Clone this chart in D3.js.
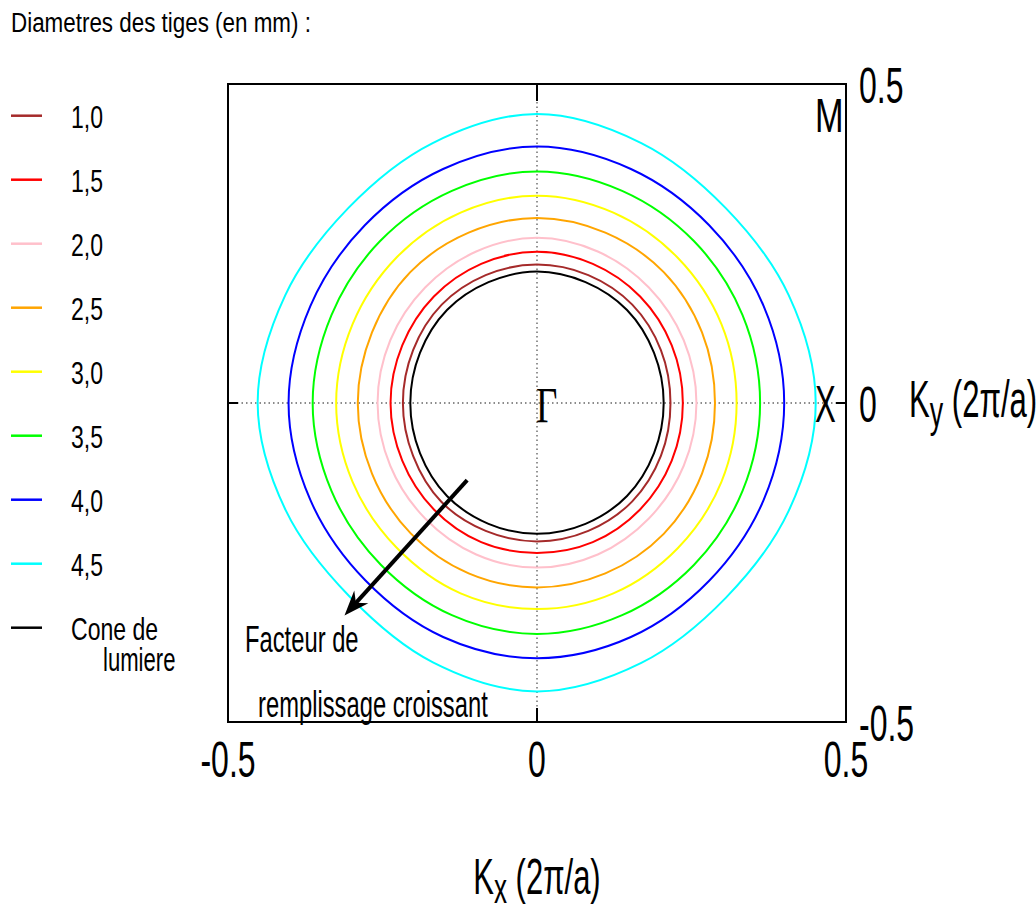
<!DOCTYPE html>
<html><head><meta charset="utf-8">
<script src="https://cdn.jsdelivr.net/npm/d3@7"></script>
<style>body{margin:0;background:#fff} svg{display:block}</style>
</head><body>
<svg id="c" width="1036" height="911"></svg>
<script>
// ---------- data ----------
const titleText = "Diametres des tiges (en mm) :";
const seriesLabels = ["1,0", "1,5", "2,0", "2,5", "3,0", "3,5", "4,0", "4,5", "Cone de"];
const seriesColors = ["#a52a2a", "#ff0000", "#ffc0cb", "#ffa500", "#ffff00", "#00ff00", "#0000ff", "#00ffff", "#000000"];
// contour radius (in 2pi/a) read at each polar angle (degrees)
const anglesDeg = [0, 22.5, 45, 67.5, 90, 112.5, 135, 157.5, 180, 202.5, 225, 247.5, 270, 292.5, 315, 337.5];
const r_1_0 = [0.216, 0.217, 0.218, 0.217, 0.217, 0.217, 0.218, 0.217, 0.217, 0.217, 0.219, 0.217, 0.217, 0.217, 0.218, 0.217];
const r_1_5 = [0.236, 0.236, 0.236, 0.236, 0.237, 0.236, 0.236, 0.236, 0.237, 0.236, 0.236, 0.236, 0.235, 0.236, 0.236, 0.236];
const r_2_0 = [0.258, 0.257, 0.256, 0.257, 0.259, 0.257, 0.256, 0.257, 0.258, 0.257, 0.256, 0.257, 0.258, 0.257, 0.256, 0.257];
const r_2_5 = [0.288, 0.289, 0.290, 0.289, 0.290, 0.289, 0.290, 0.289, 0.290, 0.289, 0.289, 0.289, 0.289, 0.289, 0.290, 0.289];
const r_3_0 = [0.323, 0.323, 0.322, 0.323, 0.325, 0.323, 0.322, 0.323, 0.325, 0.323, 0.321, 0.323, 0.323, 0.323, 0.322, 0.323];
const r_3_5 = [0.361, 0.360, 0.359, 0.360, 0.363, 0.360, 0.359, 0.360, 0.363, 0.360, 0.358, 0.360, 0.362, 0.360, 0.359, 0.360];
const r_4_0 = [0.400, 0.397, 0.394, 0.397, 0.402, 0.397, 0.394, 0.397, 0.402, 0.397, 0.393, 0.397, 0.400, 0.397, 0.394, 0.397];
const r_4_5 = [0.451, 0.441, 0.432, 0.441, 0.453, 0.441, 0.432, 0.441, 0.452, 0.440, 0.429, 0.440, 0.452, 0.441, 0.432, 0.441];
const r_cone = [0.205, 0.205, 0.206, 0.205, 0.206, 0.205, 0.206, 0.205, 0.205, 0.205, 0.206, 0.205, 0.205, 0.205, 0.206, 0.205];
const seriesRadii = [r_1_0, r_1_5, r_2_0, r_2_5, r_3_0, r_3_5, r_4_0, r_4_5, r_cone];
const xTicks = [-0.5, 0, 0.5];
const xTickLabels = ["-0.5", "0", "0.5"];
const yTicks = [-0.5, 0, 0.5];
const yTickLabels = ["-0.5", "0", "0.5"];
const arrowFrom = [-0.113, -0.121];
const arrowTo = [-0.3115, -0.333];

// ---------- layout ----------
const svg = d3.select("#c");
const L = 228, R = 846, T = 84, B = 722;
const x = d3.scaleLinear().domain([-0.5, 0.5]).range([L, R]);
const y = d3.scaleLinear().domain([-0.5, 0.5]).range([B, T]);
const SANS = "'Liberation Sans', Arial, Helvetica, sans-serif";
const SERIF = "'Liberation Serif', 'Times New Roman', serif";

function txt(px, py, s, size, sx, anchor, family) {
  return svg.append("text")
    .attr("transform", `translate(${px},${py}) scale(${sx},1)`)
    .attr("font-size", size)
    .attr("font-family", family || SANS)
    .attr("text-anchor", anchor || "start")
    .attr("fill", "#000")
    .text(s);
}

// dotted axes through Gamma
svg.append("line").attr("x1", x(-0.5)).attr("x2", x(0.5)).attr("y1", y(0)).attr("y2", y(0))
  .attr("stroke", "#666").attr("stroke-width", 1.4).attr("stroke-dasharray", "1.5,3");
svg.append("line").attr("x1", x(0)).attr("x2", x(0)).attr("y1", y(0.5)).attr("y2", y(-0.5))
  .attr("stroke", "#666").attr("stroke-width", 1.4).attr("stroke-dasharray", "1.5,3");

// contours
const line = d3.line().curve(d3.curveCatmullRomClosed.alpha(0.5));
seriesRadii.forEach((rs, i) => {
  const pts = anglesDeg.map((a, k) => {
    const t = a * Math.PI / 180;
    return [x(rs[k] * Math.cos(t)), y(rs[k] * Math.sin(t))];
  });
  svg.append("path").attr("d", line(pts)).attr("fill", "none")
    .attr("stroke", seriesColors[i]).attr("stroke-width", 2);
});

// frame
svg.append("rect").attr("x", L).attr("y", T).attr("width", R - L).attr("height", B - T)
  .attr("fill", "none").attr("stroke", "#000").attr("stroke-width", 2);
// frame ticks at 0
svg.append("line").attr("x1", x(0)).attr("x2", x(0)).attr("y1", T).attr("y2", T + 17).attr("stroke", "#000").attr("stroke-width", 2);
svg.append("line").attr("x1", x(0)).attr("x2", x(0)).attr("y1", B).attr("y2", B - 14).attr("stroke", "#000").attr("stroke-width", 2);
svg.append("line").attr("x1", L).attr("x2", L + 10).attr("y1", y(0)).attr("y2", y(0)).attr("stroke", "#000").attr("stroke-width", 2);
svg.append("line").attr("x1", R).attr("x2", R - 10).attr("y1", y(0)).attr("y2", y(0)).attr("stroke", "#000").attr("stroke-width", 2);

// tick labels
xTicks.forEach((v, i) => txt(x(v), 777, xTickLabels[i], 50, 0.64, "middle"));
yTicks.forEach((v, i) => txt(859, y(v) + 18.5, yTickLabels[i], 50, 0.64, "start"));

// axis titles
const ky = txt(909, 417, "K", 51, 0.61, "start");
ky.append("tspan").attr("font-size", 44).attr("dy", 10).text("y");
ky.append("tspan").attr("dy", -10).text(" (2\u03c0/a)");
const kx = txt(537, 894, "K", 50, 0.62, "middle");
kx.append("tspan").attr("font-size", 42).attr("dy", 9).text("x");
kx.append("tspan").attr("dy", -9).text(" (2\u03c0/a)");

// symmetry point labels
txt(815, 132, "M", 49, 0.7, "start");
txt(815, 422, "X", 52, 0.6, "start");
txt(536, 422, "\u0393", 50, 0.74, "start", SERIF);

// arrow
const ax1 = x(arrowFrom[0]), ay1 = y(arrowFrom[1]);
const ax2 = x(arrowTo[0]), ay2 = y(arrowTo[1]);
const len = Math.hypot(ax2 - ax1, ay2 - ay1);
const ux = (ax2 - ax1) / len, uy = (ay2 - ay1) / len;
svg.append("line").attr("x1", ax1).attr("y1", ay1)
  .attr("x2", ax2 - ux * 14).attr("y2", ay2 - uy * 14)
  .attr("stroke", "#000").attr("stroke-width", 4);
const ang = Math.atan2(uy, ux) * 180 / Math.PI;
svg.append("path").attr("d", "M0,0 L-25,-9.5 L-17,0 L-25,9.5 Z")
  .attr("transform", `translate(${ax2},${ay2}) rotate(${ang})`).attr("fill", "#000");

txt(245, 652, "Facteur de", 36, 0.66, "start");
txt(258, 717, "remplissage croissant", 36, 0.66, "start");

// title
txt(11, 32, titleText, 28, 0.8, "start");

// legend
seriesLabels.forEach((lab, i) => {
  const ly = 115.7 + 64 * i;
  svg.append("line").attr("x1", 11).attr("x2", 42).attr("y1", ly).attr("y2", ly)
    .attr("stroke", seriesColors[i]).attr("stroke-width", 2.5);
  txt(71, ly + 12.5, lab, 32, 0.72, "start");
});
txt(103, 671, "lumiere", 33, 0.67, "start");
</script>
</body></html>
